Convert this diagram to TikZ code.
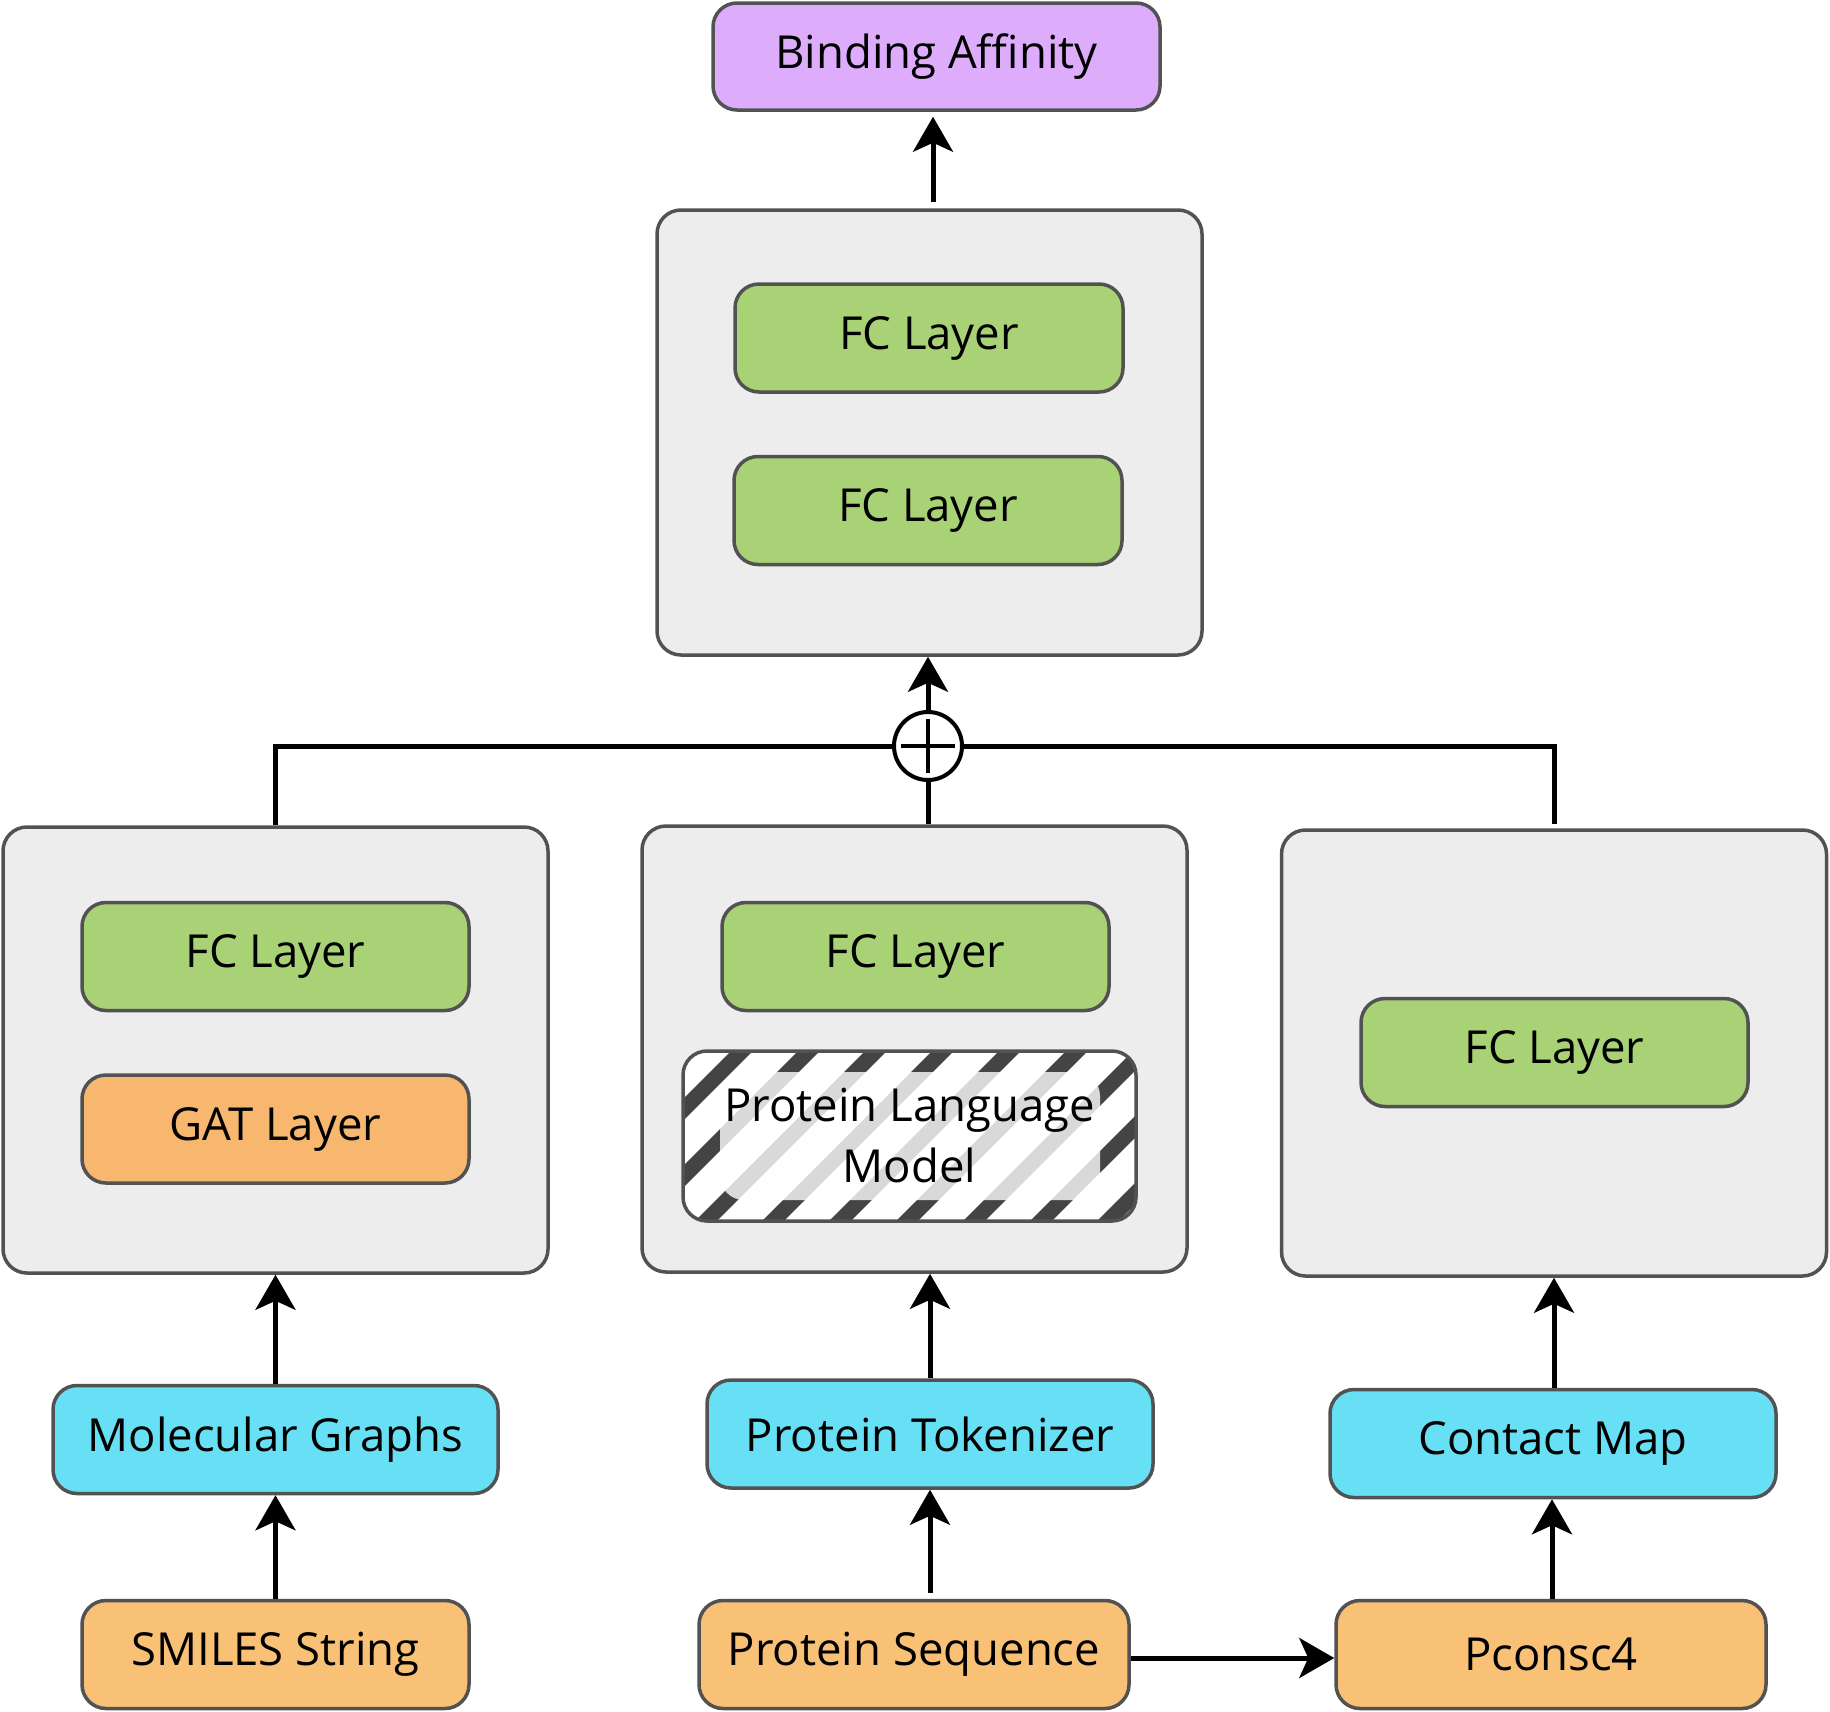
\documentclass[tikz,border=0pt]{standalone}
\usepackage{fontspec}
\setmainfont{Open Sans}
\usetikzlibrary{arrows.meta,calc}
\definecolor{bordc}{HTML}{525252}
\definecolor{purp}{HTML}{DDADFC}
\definecolor{grn}{HTML}{A9D276}
\definecolor{orng}{HTML}{F8C175}
\definecolor{cyn}{HTML}{67DFF5}
\definecolor{gbox}{HTML}{EDEDED}
\definecolor{strp}{HTML}{444444}
\tikzset{
  blk/.style={draw=bordc, line width=3.5pt, rounded corners=24pt, align=center, inner sep=0pt,
    font=\fontsize{45.5}{61}\selectfont},
  wbox/.style={blk, fill=gbox, minimum width=545pt, minimum height=446pt},
  fcbox/.style={blk, fill=grn, minimum width=387pt, minimum height=108pt},
  inbox/.style={blk, fill=orng, minimum width=387pt, minimum height=108pt},
  cybox/.style={blk, fill=cyn, minimum width=446pt, minimum height=108pt},
  arr/.style={line width=5pt, -{Stealth[length=35pt,width=40pt,inset=9pt]}},
  conn/.style={line width=5pt},
}
\begin{document}
\begin{tikzpicture}[x=1pt,y=-1pt]
\useasboundingbox (0,0) rectangle (1830,1711);
% output
\node[blk, fill=purp, minimum width=447pt, minimum height=107pt] (ba) at (936.5,56.5) {Binding Affinity};
% top box
\node[wbox, minimum height=445pt] (tbox) at (929.5,432.5) {};
\node[fcbox, minimum width=388pt] (fc1) at (929,338) {FC Layer};
\node[fcbox, minimum width=388pt] (fc2) at (928,510.5) {FC Layer};
% three branches
\node[wbox] (lbox) at (275.5,1050) {};
\node[fcbox] (lfc) at (275.5,956.5) {FC Layer};
\node[inbox, fill=orng!95!red] (gat) at (275.5,1129) {GAT Layer};
\node[wbox] (mbox) at (914.5,1049) {};
\node[fcbox] (mfc) at (915.5,956.5) {FC Layer};
\node[blk, minimum width=453pt, minimum height=170pt,
  path picture={
    \fill[white] ($(path picture bounding box.south west)+(-20pt,-20pt)$) rectangle ($(path picture bounding box.north east)+(20pt,20pt)$);
    \foreach \k in {-2,...,12}{
      \pgfmathsetmacro\xa{-357.5+67*\k}
      \pgfmathsetmacro\xb{-147.5+67*\k}
      \draw[strp, line width=15.5pt] ($(path picture bounding box.center)+(\xa pt,-105pt)$) -- ($(path picture bounding box.center)+(\xb pt,105pt)$);
    }
    \fill[white, opacity=0.8] ($(path picture bounding box.center)+(-189.5pt,-64pt)$) rectangle ($(path picture bounding box.center)+(190.5pt,64pt)$);
  }] (plm) at (909.5,1136) {Protein Language\\Model};
\node[wbox] (rbox) at (1554,1053) {};
\node[fcbox] (rfc) at (1554.5,1052.5) {FC Layer};
% inputs
\node[cybox, minimum width=445pt] (mg) at (275.5,1439.5) {Molecular Graphs};
\node[inbox] (sm) at (275.5,1654.5) {SMILES String};
\node[cybox] (pt) at (930,1434) {Protein Tokenizer};
\node[inbox, minimum width=430pt] (ps) at (914,1654.5) {Protein Sequence};
\node[cybox] (cm) at (1553,1443.5) {Contact Map};
\node[inbox, minimum width=430pt] (pc) at (1551,1654.5) {Pconsc4};
% concat
\coordinate (opc) at (928,746);
\draw[conn] (lbox.north) |- (opc) -| ([yshift=4pt]rbox.north);
\node[circle, draw=black, fill=white, line width=4pt, minimum size=68pt, inner sep=0pt] (op) at (opc) {};
\draw[line width=3.5pt] ([xshift=-27pt]op.center) -- ([xshift=27pt]op.center);
\draw[line width=3.5pt] ([yshift=-27pt]op.center) -- ([yshift=27pt]op.center);
\draw[conn] (op.south) -- (op.south |- mbox.north);
\draw[arr] (op.north) -- (op.north |- tbox.south);
\draw[arr] ([xshift=3.5pt,yshift=6pt]tbox.north) -- ([xshift=-3.5pt,yshift=-5pt]ba.south);
% input arrows
\draw[arr] (sm.north) -- (mg.south);
\draw[arr] (mg.north) -- (mg.north |- lbox.south);
\draw[arr] ([yshift=6pt]pt.south |- ps.north) -- (pt.south);
\draw[arr] (pt.north) -- (pt.north |- mbox.south);
\draw[arr] ([xshift=1pt]pc.north) -- ([xshift=1pt]pc.north |- cm.south);
\draw[arr] ([xshift=1pt]cm.north) -- ([xshift=1pt]cm.north |- rbox.south);
\draw[arr] ([yshift=-3.5pt]ps.east) -- ([yshift=-3.5pt]ps.east -| pc.west);
\end{tikzpicture}
\end{document}
